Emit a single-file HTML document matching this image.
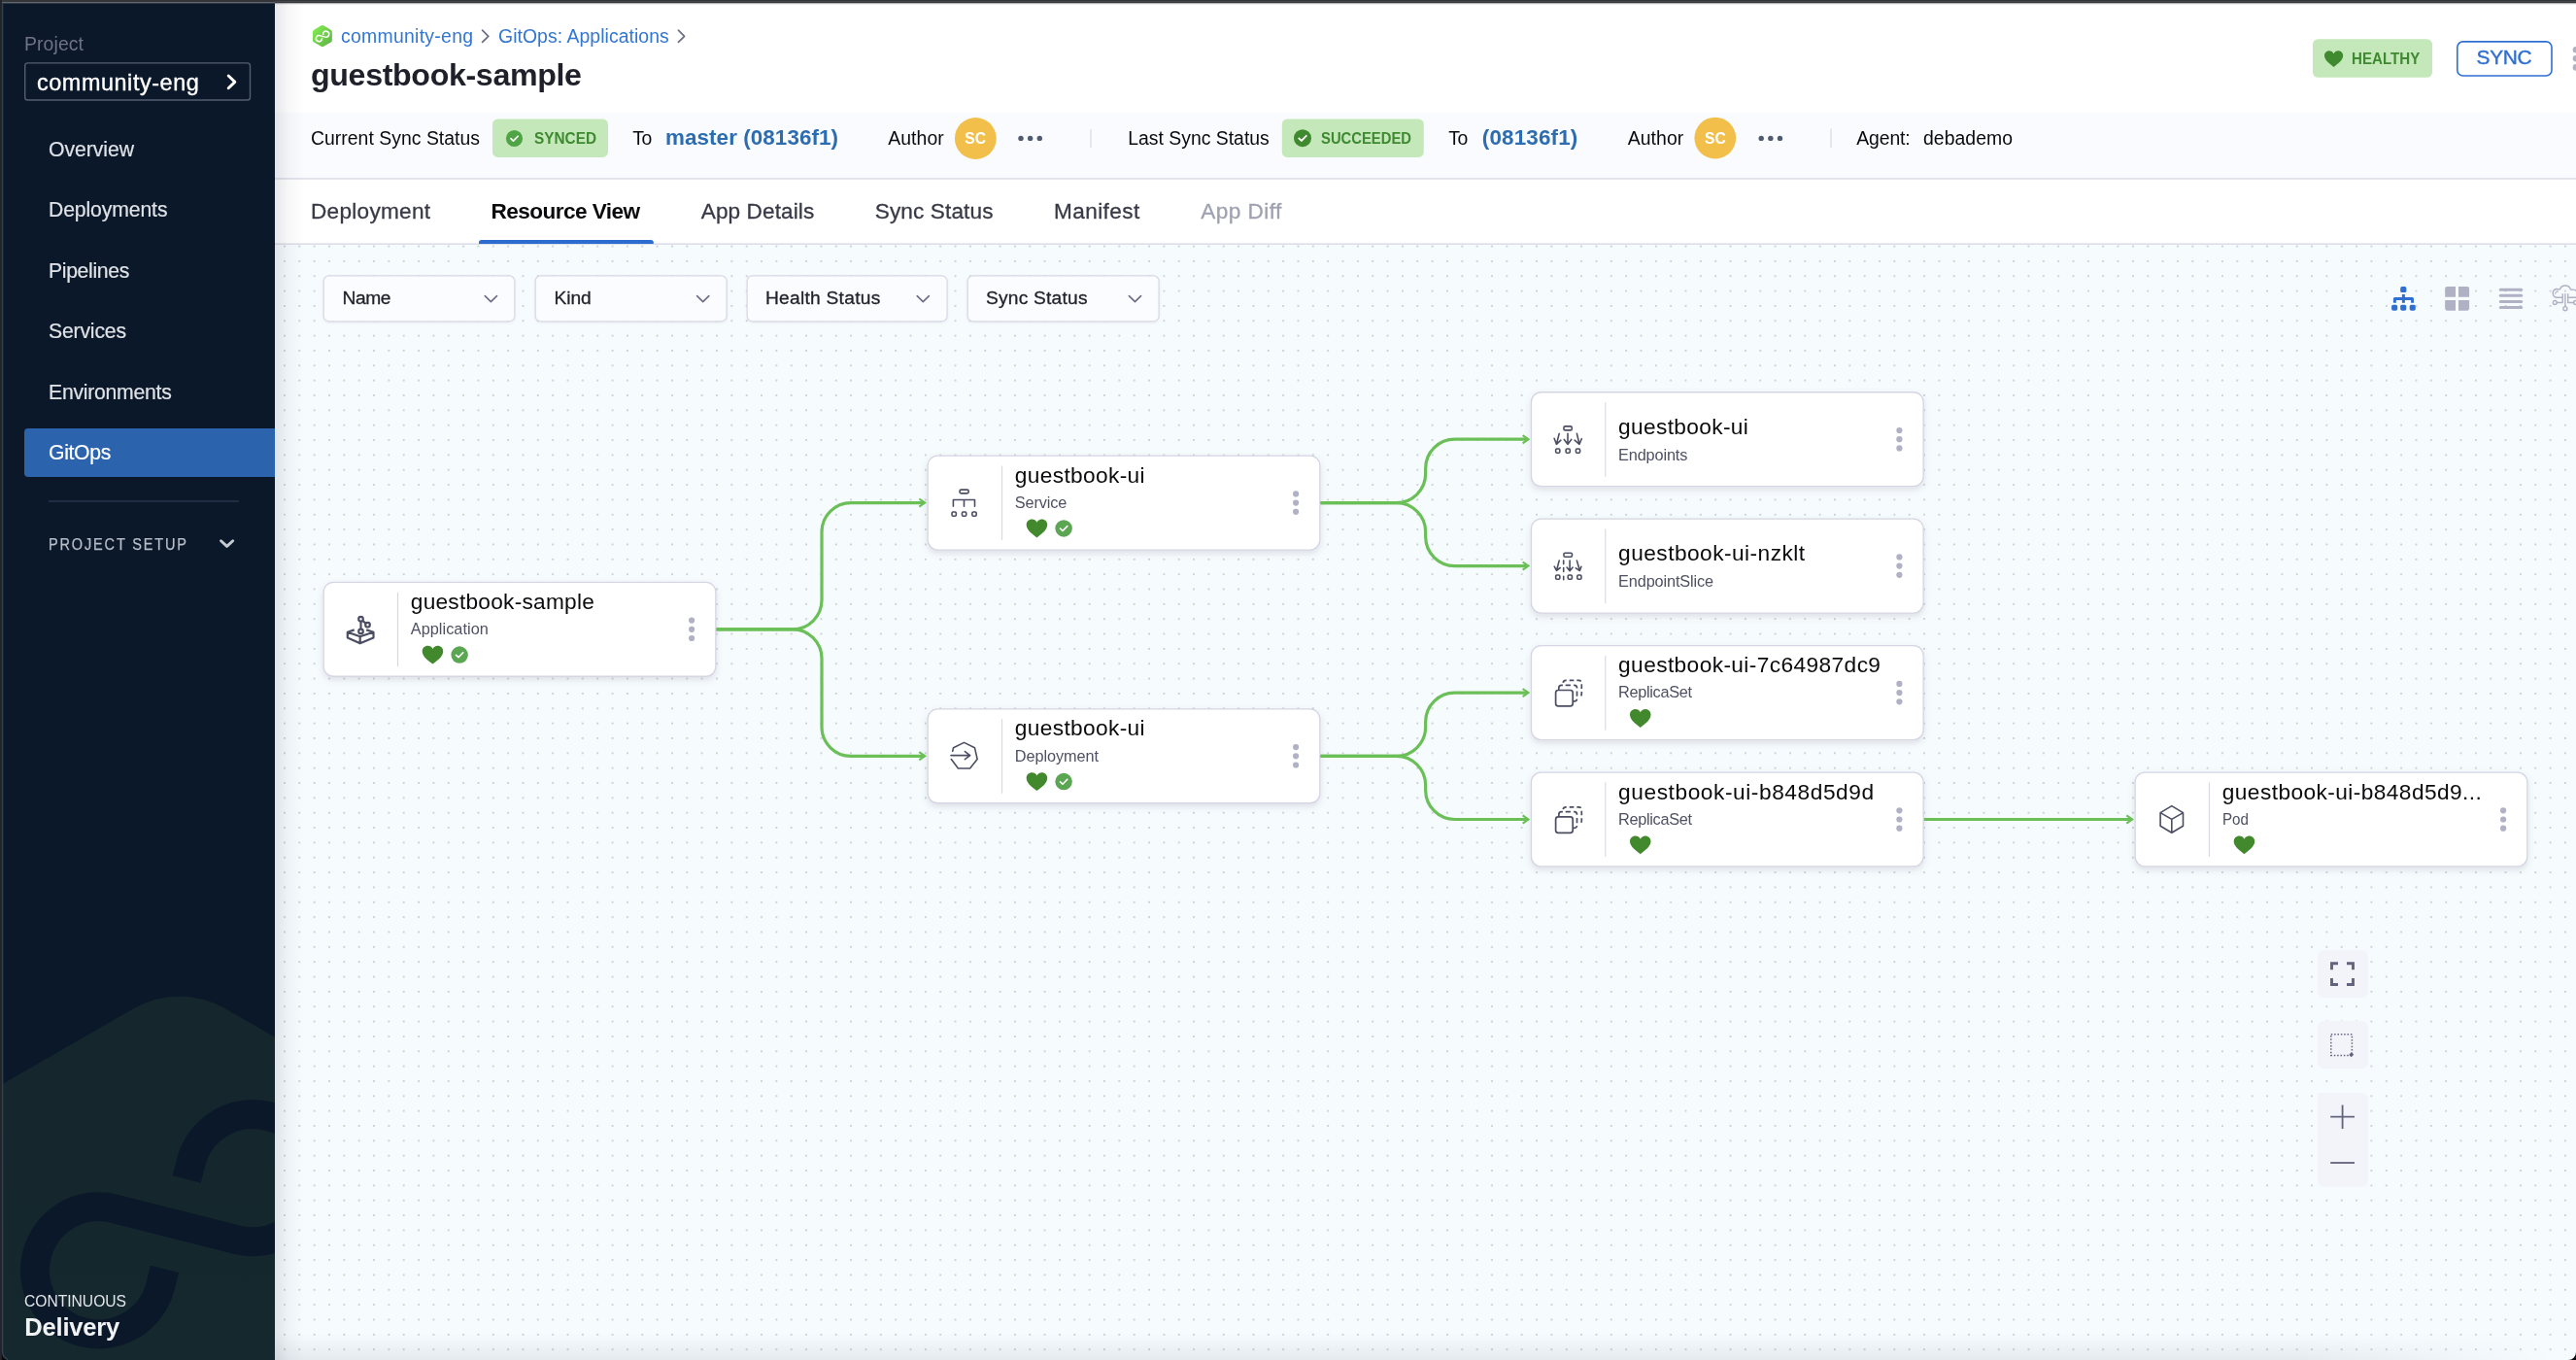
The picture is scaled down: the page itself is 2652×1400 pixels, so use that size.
<!DOCTYPE html>
<html><head><meta charset="utf-8"><title>guestbook-sample</title><style>
*{box-sizing:border-box;margin:0;padding:0}
html,body{width:2652px;height:1400px;overflow:hidden;background:#fff}
body{font-family:"Liberation Sans",sans-serif;position:relative}
.t{position:absolute;line-height:1;white-space:nowrap}
.abs{position:absolute}
#canvas{position:absolute;left:0;top:0;width:2652px;height:1400px;background-color:#f6fbfe}
.node{position:absolute;width:405px;height:98.2px;background:#fff;border:1.3px solid #d6d6e4;border-radius:10.5px;
 box-shadow:0 3px 6px rgba(96,97,112,0.16),0 0 2px rgba(40,41,61,0.06)}
#sidebar{position:absolute;left:0;top:0;width:283px;height:1400px;background:#0b1829;overflow:hidden}
.dd{position:absolute;top:283.2px;height:48.2px;background:#fbfcff;border:1.3px solid #d9dae5;border-radius:6px;box-shadow:0 1px 2px rgba(96,97,112,0.10)}
.badge{position:absolute;background:#c5e8bb;border-radius:5.5px}
.zb{position:absolute;left:2385.6px;width:52px;background:#f3f3fa;border-radius:7px}
</style></head><body>
<div id="canvas"><svg width="2652" height="1400" viewBox="0 0 2652 1400" style="position:absolute;left:0;top:0"><defs><radialGradient id="dg"><stop offset="0" stop-color="#a6abb3"/><stop offset="0.3" stop-color="#a6abb3"/><stop offset="1" stop-color="#a6abb3" stop-opacity="0"/></radialGradient><pattern id="dots" x="-6.32" y="0.33" width="15.3465" height="15.3465" patternUnits="userSpaceOnUse"><circle cx="7.67325" cy="7.67325" r="1.1" fill="url(#dg)"/></pattern></defs><rect x="283" y="250" width="2369" height="1150" fill="url(#dots)"/></svg></div>
<div class="abs" style="left:283px;top:1372px;width:2369px;height:28px;background:linear-gradient(to bottom,rgba(20,30,50,0),rgba(20,30,50,0.075));-webkit-mask-image:linear-gradient(to right,#000 0,#000 88%,transparent 99%);mask-image:linear-gradient(to right,#000 0,#000 88%,transparent 99%)"></div>
<div class="zb" style="top:978px;height:48.8px"></div>
<div class="zb" style="top:1051.4px;height:49px"></div>
<div class="zb" style="top:1125px;height:96.6px;border-radius:1px 7px 7px 7px"></div>
<div class="abs" style="left:283px;top:0;width:2369px;height:184px;background:#fff"></div>
<div class="abs" style="left:283px;top:184px;width:2369px;height:67px;background:#fff"></div>
<div id="sidebar">
<svg class="abs" style="left:0;top:0" width="283" height="1400" viewBox="0 0 283 1400">
<defs><linearGradient id="hg" x1="0" y1="1020" x2="0" y2="1400" gradientUnits="userSpaceOnUse"><stop offset="0" stop-color="#15262d"/><stop offset="1" stop-color="#14282d"/></linearGradient></defs>
<path d="M-20,1129.1 L137.1,1038.4 A95 95 0 0 1 232.1,1038.4 L300,1077.6 V1420 H-20 Z" fill="url(#hg)"/>
<path d="M169.51,1306.44 L165.10,1323.89 A65.6 65.6 0 1 1 117.59,1244.20 L244.10,1276.22 A65.6 65.6 0 1 0 196.60,1196.53 L192.19,1213.98" fill="none" stroke="#0b1829" stroke-width="30" stroke-linecap="butt"/>
</svg>
<div class="abs" style="left:25px;top:441.2px;width:258px;height:49.4px;background:#2b63ad;border-radius:4px 0 0 4px"></div>
<svg class="abs" style="left:0;top:0" width="283" height="1400" viewBox="0 0 283 1400">
<rect x="25.7" y="64.9" width="231.8" height="38.1" rx="2.8" fill="none" stroke="#565d73" stroke-width="1.4"/>
<rect x="50" y="515.1" width="195.8" height="1.7" fill="#233248"/>
<path d="M235.2,78 L241.8,84.4 L235.2,90.8" fill="none" stroke="#fff" stroke-width="2.9" stroke-linecap="round" stroke-linejoin="round"/>
<path d="M227.5,556.8 L233.6,562.4 L239.7,556.8" fill="none" stroke="#c6cbd3" stroke-width="2.9" stroke-linecap="round" stroke-linejoin="round"/>
</svg>
</div>
<svg class="abs" style="left:0;top:0;pointer-events:none" width="2652" height="1400" viewBox="0 0 2652 1400">
<rect x="0" y="0" width="2652" height="1.9" fill="#333538"/>
<rect x="1.9" y="1.9" width="281.1" height="1.5" fill="#63666b"/>
<rect x="283" y="1.9" width="2369" height="1.3" fill="#36383c"/>
<rect x="283" y="3.2" width="2369" height="1.1" fill="#3c3e46" fill-opacity="0.28"/>
<rect x="0" y="0" width="1.9" height="1400" fill="#232528"/>
<path d="M1.9,1400 V1390.9 A10 10 0 0 0 7.8,1400 Z" fill="#08090b"/>
<path d="M2.6,3.4 V1390.9 A9.3 9.3 0 0 0 8.2,1399.6" fill="none" stroke="#33424f" stroke-width="1.4"/>
</svg>
<svg class="abs" style="left:0;top:0;pointer-events:none" width="2652" height="1400" viewBox="0 0 2652 1400">
<defs><linearGradient id="gh" x1="0" y1="0" x2="1" y2="1"><stop offset="0" stop-color="#80ea4e"/><stop offset="1" stop-color="#62b748"/></linearGradient></defs>
<filter id="sh" x="-5%" y="-15%" width="110%" height="140%"><feDropShadow dx="0" dy="3" stdDeviation="3" flood-color="#606170" flood-opacity="0.17"/></filter>
<filter id="sh2" x="-5%" y="-15%" width="110%" height="140%"><feDropShadow dx="0" dy="1" stdDeviation="1.2" flood-color="#606170" flood-opacity="0.10"/></filter>
<rect x="283" y="115.7" width="2369" height="68" fill="#fafbfe"/>
<rect x="283" y="183.2" width="2369" height="1.5" fill="#d9dae6"/>
<rect x="507" y="122.4" width="119" height="39.6" rx="5.6" fill="#c5e8bb"/>
<rect x="1319.8" y="122.4" width="146" height="39.6" rx="5.6" fill="#c5e8bb"/>
<rect x="2381" y="40.2" width="123" height="39.6" rx="5.6" fill="#c5e8bb"/>
<circle cx="1004.3" cy="142.5" r="21.4" fill="#f2c04a"/>
<circle cx="1765.8" cy="142.1" r="21.4" fill="#f2c04a"/>
<rect x="283" y="250.45" width="2369" height="1.45" fill="#dadbe7"/>
<path d="M493,251 V249.6 A2.6 2.6 0 0 1 495.6,247 H670.2 A2.6 2.6 0 0 1 672.8,249.6 V251 Z" fill="#2b6dcf"/>
<rect x="2529.8" y="42.9" width="97.2" height="35.1" rx="5.8" fill="#fff" stroke="#2f6fd1" stroke-width="1.6"/>
<rect x="333.15" y="283.9" width="196.70" height="46.9" rx="5.6" fill="#fbfcff" stroke="#d9dae5" stroke-width="1.3" filter="url(#sh2)"/>
<rect x="551.15" y="283.9" width="196.95" height="46.9" rx="5.6" fill="#fbfcff" stroke="#d9dae5" stroke-width="1.3" filter="url(#sh2)"/>
<rect x="769.15" y="283.9" width="205.95" height="46.9" rx="5.6" fill="#fbfcff" stroke="#d9dae5" stroke-width="1.3" filter="url(#sh2)"/>
<rect x="996.15" y="283.9" width="196.95" height="46.9" rx="5.6" fill="#fbfcff" stroke="#d9dae5" stroke-width="1.3" filter="url(#sh2)"/>
<rect x="333.15" y="599.35" width="403.70" height="96.90" rx="10.2" fill="#fff" stroke="#d5d5e3" stroke-width="1.3" filter="url(#sh)"/>
<rect x="955.15" y="469.15" width="403.70" height="96.90" rx="10.2" fill="#fff" stroke="#d5d5e3" stroke-width="1.3" filter="url(#sh)"/>
<rect x="955.15" y="729.85" width="403.70" height="96.90" rx="10.2" fill="#fff" stroke="#d5d5e3" stroke-width="1.3" filter="url(#sh)"/>
<rect x="1576.45" y="403.75" width="403.70" height="96.90" rx="10.2" fill="#fff" stroke="#d5d5e3" stroke-width="1.3" filter="url(#sh)"/>
<rect x="1576.45" y="534.15" width="403.70" height="96.90" rx="10.2" fill="#fff" stroke="#d5d5e3" stroke-width="1.3" filter="url(#sh)"/>
<rect x="1576.45" y="664.65" width="403.70" height="96.90" rx="10.2" fill="#fff" stroke="#d5d5e3" stroke-width="1.3" filter="url(#sh)"/>
<rect x="1576.45" y="795.05" width="403.70" height="96.90" rx="10.2" fill="#fff" stroke="#d5d5e3" stroke-width="1.3" filter="url(#sh)"/>
<rect x="2198.15" y="795.05" width="403.70" height="96.90" rx="10.2" fill="#fff" stroke="#d5d5e3" stroke-width="1.3" filter="url(#sh)"/>
<path d="M737.50,647.80 H816.00 A30 30 0 0 0 846.00,617.80 V547.60 A30 30 0 0 1 876.00,517.60 H951.30" fill="none" stroke="#6abf56" stroke-width="3.2"/><path d="M946.30,513.50 L952.20,517.60 L946.30,521.70" fill="none" stroke="#6abf56" stroke-width="2.1" stroke-linejoin="miter" stroke-linecap="butt"/><path d="M737.50,647.80 H816.00 A30 30 0 0 1 846.00,677.80 V748.30 A30 30 0 0 0 876.00,778.30 H951.30" fill="none" stroke="#6abf56" stroke-width="3.2"/><path d="M946.30,774.20 L952.20,778.30 L946.30,782.40" fill="none" stroke="#6abf56" stroke-width="2.1" stroke-linejoin="miter" stroke-linecap="butt"/><path d="M1359.50,517.60 H1437.65 A30 30 0 0 0 1467.65,487.60 V482.20 A30 30 0 0 1 1497.65,452.20 H1572.60" fill="none" stroke="#6abf56" stroke-width="3.2"/><path d="M1567.60,448.10 L1573.50,452.20 L1567.60,456.30" fill="none" stroke="#6abf56" stroke-width="2.1" stroke-linejoin="miter" stroke-linecap="butt"/><path d="M1359.50,517.60 H1437.65 A30 30 0 0 1 1467.65,547.60 V552.60 A30 30 0 0 0 1497.65,582.60 H1572.60" fill="none" stroke="#6abf56" stroke-width="3.2"/><path d="M1567.60,578.50 L1573.50,582.60 L1567.60,586.70" fill="none" stroke="#6abf56" stroke-width="2.1" stroke-linejoin="miter" stroke-linecap="butt"/><path d="M1359.50,778.30 H1437.65 A30 30 0 0 0 1467.65,748.30 V743.10 A30 30 0 0 1 1497.65,713.10 H1572.60" fill="none" stroke="#6abf56" stroke-width="3.2"/><path d="M1567.60,709.00 L1573.50,713.10 L1567.60,717.20" fill="none" stroke="#6abf56" stroke-width="2.1" stroke-linejoin="miter" stroke-linecap="butt"/><path d="M1359.50,778.30 H1437.65 A30 30 0 0 1 1467.65,808.30 V813.50 A30 30 0 0 0 1497.65,843.50 H1572.60" fill="none" stroke="#6abf56" stroke-width="3.2"/><path d="M1567.60,839.40 L1573.50,843.50 L1567.60,847.60" fill="none" stroke="#6abf56" stroke-width="2.1" stroke-linejoin="miter" stroke-linecap="butt"/><path d="M1980.80,843.50 H2194.30" fill="none" stroke="#6abf56" stroke-width="3.2"/><path d="M2189.30,839.40 L2195.20,843.50 L2189.30,847.60" fill="none" stroke="#6abf56" stroke-width="2.1" stroke-linejoin="miter" stroke-linecap="butt"/>
<rect x="408.90" y="609.70" width="1.2" height="76.6" fill="#d9dae5"/>
<circle cx="712.10" cy="638.60" r="3.1" fill="#b0b1c4"/>
<circle cx="712.10" cy="647.80" r="3.1" fill="#b0b1c4"/>
<circle cx="712.10" cy="657.00" r="3.1" fill="#b0b1c4"/>
<g fill="none" stroke="#4b4e63" stroke-width="2.2" stroke-linejoin="round" stroke-linecap="butt"><circle cx="371.50" cy="637.20" r="2.3"/><circle cx="378.50" cy="643.20" r="2.3"/><circle cx="371.50" cy="649.90" r="2.3"/><path d="M371.50,639.50 L371.50,647.60 M373.20,638.80 L376.70,641.80"/><path d="M364.70,648.40 L357.80,650.80 L357.80,656.50 L370.70,662.30 L384.50,656.50 L384.50,650.80 L377.20,648.40 M357.80,650.80 L370.70,655.30 L384.50,650.80 M370.70,655.30 L370.70,662.30"/></g>
<path transform="translate(434.70,663.44) scale(1.3438)" d="M16 5.095c0-2.255-1.88-4.083-4.2-4.083-1.682 0-3.13.964-3.8 2.352a4.206 4.206 0 00-3.8-2.352C1.88 1.012 0 2.84 0 5.095c0 .066.007.13.01.194H.004c.001.047.01.096.014.143l.013.142c.07.8.321 1.663.824 2.573C2.073 10.354 4.232 12.018 8 15c3.767-2.982 5.926-4.647 7.144-6.854.501-.905.752-1.766.823-2.562.007-.055.012-.11.016-.164.003-.043.012-.088.013-.13h-.006c.003-.066.01-.13.01-.195z" fill="#42892d"/>
<circle cx="473.10" cy="674.10" r="8.75" fill="#5ba653"/><path d="M469.50,674.30 L472.00,676.70 L476.80,671.80" fill="none" stroke="#fff" stroke-width="1.60" stroke-linecap="round" stroke-linejoin="round"/>
<rect x="1030.90" y="479.50" width="1.2" height="76.6" fill="#d9dae5"/>
<circle cx="1334.10" cy="508.40" r="3.1" fill="#b0b1c4"/>
<circle cx="1334.10" cy="517.60" r="3.1" fill="#b0b1c4"/>
<circle cx="1334.10" cy="526.80" r="3.1" fill="#b0b1c4"/>
<g transform="translate(992.50,517.60)" fill="none" stroke="#4b4e63" stroke-width="1.6" stroke-linejoin="round"><rect x="-4.5" y="-13.5" width="9.2" height="3.8" rx="1.6"/><path d="M-11.1,3.6 V-3.1 H11 V3.6 M0,-3.1 V3.6" stroke-linecap="round"/><rect x="-12.45" y="9.35" width="4.3" height="4.3" rx="1.2"/><rect x="-2.05" y="9.35" width="4.3" height="4.3" rx="1.2"/><rect x="8.35" y="9.35" width="4.3" height="4.3" rx="1.2"/></g>
<path transform="translate(1056.70,533.24) scale(1.3438)" d="M16 5.095c0-2.255-1.88-4.083-4.2-4.083-1.682 0-3.13.964-3.8 2.352a4.206 4.206 0 00-3.8-2.352C1.88 1.012 0 2.84 0 5.095c0 .066.007.13.01.194H.004c.001.047.01.096.014.143l.013.142c.07.8.321 1.663.824 2.573C2.073 10.354 4.232 12.018 8 15c3.767-2.982 5.926-4.647 7.144-6.854.501-.905.752-1.766.823-2.562.007-.055.012-.11.016-.164.003-.043.012-.088.013-.13h-.006c.003-.066.01-.13.01-.195z" fill="#42892d"/>
<circle cx="1095.10" cy="543.90" r="8.75" fill="#5ba653"/><path d="M1091.50,544.10 L1094.00,546.50 L1098.80,541.60" fill="none" stroke="#fff" stroke-width="1.60" stroke-linecap="round" stroke-linejoin="round"/>
<rect x="1030.90" y="740.20" width="1.2" height="76.6" fill="#d9dae5"/>
<circle cx="1334.10" cy="769.10" r="3.1" fill="#b0b1c4"/>
<circle cx="1334.10" cy="778.30" r="3.1" fill="#b0b1c4"/>
<circle cx="1334.10" cy="787.50" r="3.1" fill="#b0b1c4"/>
<g transform="translate(992.50,778.40)" fill="none" stroke="#4b4e63" stroke-width="1.6" stroke-linejoin="round" stroke-linecap="round"><path d="M-13.20,3.12 L-6.07,12.61 L6.07,12.61 L13.65,3.12 L10.95,-8.73 L0.00,-14.00 L-10.95,-8.73 L-11.78,-5.06"/><path d="M-13.5,-0.75 H6 M0.9,-4.8 L6.2,-0.75 L0.9,3.3"/></g>
<path transform="translate(1056.70,793.94) scale(1.3438)" d="M16 5.095c0-2.255-1.88-4.083-4.2-4.083-1.682 0-3.13.964-3.8 2.352a4.206 4.206 0 00-3.8-2.352C1.88 1.012 0 2.84 0 5.095c0 .066.007.13.01.194H.004c.001.047.01.096.014.143l.013.142c.07.8.321 1.663.824 2.573C2.073 10.354 4.232 12.018 8 15c3.767-2.982 5.926-4.647 7.144-6.854.501-.905.752-1.766.823-2.562.007-.055.012-.11.016-.164.003-.043.012-.088.013-.13h-.006c.003-.066.01-.13.01-.195z" fill="#42892d"/>
<circle cx="1095.10" cy="804.60" r="8.75" fill="#5ba653"/><path d="M1091.50,804.80 L1094.00,807.20 L1098.80,802.30" fill="none" stroke="#fff" stroke-width="1.60" stroke-linecap="round" stroke-linejoin="round"/>
<rect x="1652.20" y="414.10" width="1.2" height="76.6" fill="#d9dae5"/>
<circle cx="1955.40" cy="443.00" r="3.1" fill="#b0b1c4"/>
<circle cx="1955.40" cy="452.20" r="3.1" fill="#b0b1c4"/>
<circle cx="1955.40" cy="461.40" r="3.1" fill="#b0b1c4"/>
<g transform="translate(1614.20,452.50)" fill="none" stroke="#4b4e63" stroke-width="1.6" stroke-linejoin="round" stroke-linecap="round"><rect x="-4.3" y="-13.6" width="8.4" height="4.0" rx="1.5"/><path d="M-0.2,-6.1 V4.8 M-3.9,-0.1 L-0.2,4.8 L3.5,-0.1"/><path d="M-9,-6.1 L-11.8,4.8 M-14.1,-1.2 L-11.8,4.8 L-7.3,0.7"/><path d="M9.2,-6.1 L11.8,4.8 M6.9,0.7 L11.8,4.8 L14.1,-0.8"/><rect x="-12.55" y="9.5" width="4.2" height="4.2" rx="1.2"/><rect x="-2.10" y="9.5" width="4.2" height="4.2" rx="1.2"/><rect x="8.20" y="9.5" width="4.2" height="4.2" rx="1.2"/></g>
<rect x="1652.20" y="544.50" width="1.2" height="76.6" fill="#d9dae5"/>
<circle cx="1955.40" cy="573.40" r="3.1" fill="#b0b1c4"/>
<circle cx="1955.40" cy="582.60" r="3.1" fill="#b0b1c4"/>
<circle cx="1955.40" cy="591.80" r="3.1" fill="#b0b1c4"/>
<g transform="translate(1614.60,582.70)" fill="none" stroke="#4b4e63" stroke-width="1.6" stroke-linejoin="round" stroke-linecap="round"><rect x="-4.7" y="-13.5" width="8.6" height="4.1" rx="1.5"/><path d="M1.5,-5.6 V5 M-1.5,1.3 L1.5,5 L4.5,1.3"/><path d="M-9.4,-5.6 L-12.1,4.6 M-14.4,0.5 L-12.1,4.6 L-8.4,1.8"/><path d="M8.8,-5.6 L11.8,4.8 M7.7,2.1 L11.8,4.8 L13.3,0.5"/><path d="M-4.9,-5.6 V-2.1 M-4.9,1.8 V5.8 M-4.9,10.6 V14.1"/><rect x="-12.95" y="9.3" width="4.2" height="4.2" rx="1.2"/><rect x="-0.40" y="9.3" width="4.2" height="4.2" rx="1.2"/><rect x="9.20" y="9.3" width="4.2" height="4.2" rx="1.2"/></g>
<rect x="1652.20" y="675.00" width="1.2" height="76.6" fill="#d9dae5"/>
<circle cx="1955.40" cy="703.90" r="3.1" fill="#b0b1c4"/>
<circle cx="1955.40" cy="713.10" r="3.1" fill="#b0b1c4"/>
<circle cx="1955.40" cy="722.30" r="3.1" fill="#b0b1c4"/>
<g transform="translate(1614.50,714.00)" fill="none" stroke="#4b4e63" stroke-width="1.7" stroke-linejoin="round"><path d="M-5.3,-10.6 V-10.8 A2.8 2.8 0 0 1 -2.5,-13.6 H11 A2.8 2.8 0 0 1 13.8,-10.8 V0.5 A2.8 2.8 0 0 1 11,3.3" stroke-dasharray="4.6 3" stroke-dashoffset="-0.6"/><path d="M-9.7,-3.6 V-5.9 A2.8 2.8 0 0 1 -6.9,-8.7 H-5.6"/><path d="M-2.8,-8.7 H6.2 A2.8 2.8 0 0 1 9,-5.9 V3.5" stroke-dasharray="5.2 3.2"/><path d="M9,5.6 A2.6 2.6 0 0 1 6.4,7.9 H5.2"/><rect x="-12.9" y="-3.5" width="17.6" height="16.4" rx="2.6"/></g>
<path transform="translate(1678.00,728.74) scale(1.3438)" d="M16 5.095c0-2.255-1.88-4.083-4.2-4.083-1.682 0-3.13.964-3.8 2.352a4.206 4.206 0 00-3.8-2.352C1.88 1.012 0 2.84 0 5.095c0 .066.007.13.01.194H.004c.001.047.01.096.014.143l.013.142c.07.8.321 1.663.824 2.573C2.073 10.354 4.232 12.018 8 15c3.767-2.982 5.926-4.647 7.144-6.854.501-.905.752-1.766.823-2.562.007-.055.012-.11.016-.164.003-.043.012-.088.013-.13h-.006c.003-.066.01-.13.01-.195z" fill="#42892d"/>
<rect x="1652.20" y="805.40" width="1.2" height="76.6" fill="#d9dae5"/>
<circle cx="1955.40" cy="834.30" r="3.1" fill="#b0b1c4"/>
<circle cx="1955.40" cy="843.50" r="3.1" fill="#b0b1c4"/>
<circle cx="1955.40" cy="852.70" r="3.1" fill="#b0b1c4"/>
<g transform="translate(1614.50,844.40)" fill="none" stroke="#4b4e63" stroke-width="1.7" stroke-linejoin="round"><path d="M-5.3,-10.6 V-10.8 A2.8 2.8 0 0 1 -2.5,-13.6 H11 A2.8 2.8 0 0 1 13.8,-10.8 V0.5 A2.8 2.8 0 0 1 11,3.3" stroke-dasharray="4.6 3" stroke-dashoffset="-0.6"/><path d="M-9.7,-3.6 V-5.9 A2.8 2.8 0 0 1 -6.9,-8.7 H-5.6"/><path d="M-2.8,-8.7 H6.2 A2.8 2.8 0 0 1 9,-5.9 V3.5" stroke-dasharray="5.2 3.2"/><path d="M9,5.6 A2.6 2.6 0 0 1 6.4,7.9 H5.2"/><rect x="-12.9" y="-3.5" width="17.6" height="16.4" rx="2.6"/></g>
<path transform="translate(1678.00,859.14) scale(1.3438)" d="M16 5.095c0-2.255-1.88-4.083-4.2-4.083-1.682 0-3.13.964-3.8 2.352a4.206 4.206 0 00-3.8-2.352C1.88 1.012 0 2.84 0 5.095c0 .066.007.13.01.194H.004c.001.047.01.096.014.143l.013.142c.07.8.321 1.663.824 2.573C2.073 10.354 4.232 12.018 8 15c3.767-2.982 5.926-4.647 7.144-6.854.501-.905.752-1.766.823-2.562.007-.055.012-.11.016-.164.003-.043.012-.088.013-.13h-.006c.003-.066.01-.13.01-.195z" fill="#42892d"/>
<rect x="2273.90" y="805.40" width="1.2" height="76.6" fill="#d9dae5"/>
<circle cx="2577.10" cy="834.30" r="3.1" fill="#b0b1c4"/>
<circle cx="2577.10" cy="843.50" r="3.1" fill="#b0b1c4"/>
<circle cx="2577.10" cy="852.70" r="3.1" fill="#b0b1c4"/>
<g transform="translate(2235.80,843.40)" fill="none" stroke="#4b4e63" stroke-width="1.6" stroke-linejoin="round"><path d="M0,-13.8 L11.7,-6.75 V6.8 L0,13.9 L-11.7,6.8 V-6.75 Z M-11.7,-6.75 L0,0 L11.7,-6.75 M0,0 V13.9"/></g>
<path transform="translate(2299.70,859.14) scale(1.3438)" d="M16 5.095c0-2.255-1.88-4.083-4.2-4.083-1.682 0-3.13.964-3.8 2.352a4.206 4.206 0 00-3.8-2.352C1.88 1.012 0 2.84 0 5.095c0 .066.007.13.01.194H.004c.001.047.01.096.014.143l.013.142c.07.8.321 1.663.824 2.573C2.073 10.354 4.232 12.018 8 15c3.767-2.982 5.926-4.647 7.144-6.854.501-.905.752-1.766.823-2.562.007-.055.012-.11.016-.164.003-.043.012-.088.013-.13h-.006c.003-.066.01-.13.01-.195z" fill="#42892d"/>
<path d="M331.90,28.50 L339.35,32.80 L339.35,41.40 L331.90,45.70 L324.45,41.40 L324.45,32.80 Z" fill="url(#gh)" stroke="url(#gh)" stroke-width="5" stroke-linejoin="round"/>
<path d="M331.57,39.52 L331.36,40.35 A3.05 3.05 0 1 1 329.15,36.64 L334.93,38.11 A3.05 3.05 0 1 0 332.72,34.40 L332.51,35.22" fill="none" stroke="#fff" stroke-width="1.5" stroke-linecap="round"/>
<path d="M496.60,31.2 L502.80,37.3 L496.60,43.4" fill="none" stroke="#6b6d85" stroke-width="1.7" stroke-linecap="round" stroke-linejoin="round"/>
<path d="M698.40,31.2 L704.60,37.3 L698.40,43.4" fill="none" stroke="#6b6d85" stroke-width="1.7" stroke-linecap="round" stroke-linejoin="round"/>
<circle cx="529.50" cy="142.50" r="8.60" fill="#4fa546"/><path d="M525.96,142.70 L528.42,145.06 L533.14,140.24" fill="none" stroke="#fff" stroke-width="1.70" stroke-linecap="round" stroke-linejoin="round"/>
<circle cx="1341.00" cy="142.20" r="9.00" fill="#3f8a2e"/><path d="M1337.30,142.41 L1339.87,144.87 L1344.81,139.83" fill="none" stroke="#fff" stroke-width="1.90" stroke-linecap="round" stroke-linejoin="round"/>
<path transform="translate(2393.00,51.09) scale(1.2000)" d="M16 5.095c0-2.255-1.88-4.083-4.2-4.083-1.682 0-3.13.964-3.8 2.352a4.206 4.206 0 00-3.8-2.352C1.88 1.012 0 2.84 0 5.095c0 .066.007.13.01.194H.004c.001.047.01.096.014.143l.013.142c.07.8.321 1.663.824 2.573C2.073 10.354 4.232 12.018 8 15c3.767-2.982 5.926-4.647 7.144-6.854.501-.905.752-1.766.823-2.562.007-.055.012-.11.016-.164.003-.043.012-.088.013-.13h-.006c.003-.066.01-.13.01-.195z" fill="#3f8a2e"/>
<circle cx="1051.00" cy="142.4" r="2.7" fill="#4f5b6e"/>
<circle cx="1060.65" cy="142.4" r="2.7" fill="#4f5b6e"/>
<circle cx="1070.30" cy="142.4" r="2.7" fill="#4f5b6e"/>
<circle cx="1813.20" cy="142.4" r="2.7" fill="#4f5b6e"/>
<circle cx="1822.85" cy="142.4" r="2.7" fill="#4f5b6e"/>
<circle cx="1832.50" cy="142.4" r="2.7" fill="#4f5b6e"/>
<rect x="1122.4" y="133" width="1.3" height="19" fill="#d9dae5"/>
<rect x="1884.4" y="132.5" width="1.3" height="19.3" fill="#d9dae5"/>
<circle cx="2652" cy="51.20" r="3.3" fill="#b0b1c4"/>
<circle cx="2652" cy="60.30" r="3.3" fill="#b0b1c4"/>
<circle cx="2652" cy="69.40" r="3.3" fill="#b0b1c4"/>
<path d="M499.30,304.6 L505.40,310.6 L511.50,304.6" fill="none" stroke="#6b6d85" stroke-width="1.6" stroke-linecap="round" stroke-linejoin="round"/>
<path d="M717.60,304.6 L723.70,310.6 L729.80,304.6" fill="none" stroke="#6b6d85" stroke-width="1.6" stroke-linecap="round" stroke-linejoin="round"/>
<path d="M944.20,304.6 L950.30,310.6 L956.40,304.6" fill="none" stroke="#6b6d85" stroke-width="1.6" stroke-linecap="round" stroke-linejoin="round"/>
<path d="M1162.40,304.6 L1168.50,310.6 L1174.60,304.6" fill="none" stroke="#6b6d85" stroke-width="1.6" stroke-linecap="round" stroke-linejoin="round"/>
<g fill="#2f6fd1">
<rect x="2471.2" y="295" width="6.2" height="6.1" rx="1.7"/>
<rect x="2472.9" y="303" width="3" height="8.8"/>
<path d="M2463.9,311.8 V307.6 A1.6 1.6 0 0 1 2465.5,306 H2483.4 A1.6 1.6 0 0 1 2485,307.6 V311.8 H2482.1 V308.9 H2466.9 V311.8 Z"/>
<rect x="2462.1" y="313.7" width="6.1" height="6.1" rx="1.7"/>
<rect x="2471.2" y="313.7" width="6.1" height="6.1" rx="1.7"/>
<rect x="2480.7" y="313.7" width="6.1" height="6.1" rx="1.7"/>
</g>
<g fill="#b0b1c4">
<path d="M2519.4,295 H2528 V305.8 H2517.2 V297.2 A2.2 2.2 0 0 1 2519.4,295 Z"/>
<path d="M2531,295 H2539.9 A2.2 2.2 0 0 1 2542.1,297.2 V305.8 H2531 Z"/>
<path d="M2517.2,309 H2528 V319.8 H2519.4 A2.2 2.2 0 0 1 2517.2,317.6 Z"/>
<path d="M2531,309 H2542.1 V317.6 A2.2 2.2 0 0 1 2539.9,319.8 H2531 Z"/>
</g>
<rect x="2572.8" y="296.80" width="24.4" height="3" rx="1.5" fill="#b0b1c4"/>
<rect x="2572.8" y="302.85" width="24.4" height="3" rx="1.5" fill="#b0b1c4"/>
<rect x="2572.8" y="308.90" width="24.4" height="3" rx="1.5" fill="#b0b1c4"/>
<rect x="2572.8" y="315.00" width="24.4" height="3" rx="1.5" fill="#b0b1c4"/>
<g fill="none" stroke="#b0b1c4" stroke-width="1.4" stroke-linecap="round" stroke-linejoin="round">
<path d="M2637.6,306.3 H2632.6 A4.5 4.5 0 0 1 2631.4,297.5 L2635.4,297.9 A5.9 5.9 0 0 1 2646.5,297.9 L2647.6,298.3 A5 5 0 0 1 2652.6,299.8 M2644.6,306.3 H2652.6"/>
<path d="M2630.8,302.6 A2.6 2.6 0 0 1 2633.4,299.9" stroke-width="1.1"/>
<path d="M2640.9,302.8 V315.6 M2638.2,302.8 V311.5 H2632.3 M2643.7,302.8 V311.5 H2649.6"/>
<circle cx="2640.9" cy="317.7" r="2.05"/><circle cx="2630.3" cy="311.5" r="1.95"/><circle cx="2651.6" cy="311.5" r="1.95"/>
</g>
<g fill="none" stroke="#62647d" stroke-width="2.9" stroke-linejoin="miter">
<path d="M2400.5,998.3 V991.8 H2407 M2416,991.8 H2422.5 V998.3 M2422.5,1007 V1013.5 H2416 M2407,1013.5 H2400.5 V1007"/>
</g>
<rect x="2399.8" y="1064.8" width="21.6" height="21.6" fill="none" stroke="#62647d" stroke-width="1.5" stroke-dasharray="1.5 1.85"/>
<path d="M2420.6,1083.2 L2423.2,1085.8 L2420.6,1088.2 L2418.4,1085.8 Z" fill="#62647d"/>
<path d="M2399.2,1149.6 H2424 M2411.6,1137.4 V1162" fill="none" stroke="#62647d" stroke-width="1.8"/>
<path d="M2399.2,1197 H2424" fill="none" stroke="#62647d" stroke-width="1.8"/>
</svg>
<div class="abs" style="left:283px;top:3px;width:30px;height:1397px;background:linear-gradient(to right,rgba(20,25,50,0.10),rgba(20,25,50,0.035) 45%,rgba(20,25,50,0))"></div>
<div id="txt" style="position:absolute;left:0;top:0;width:2652px;height:1400px;will-change:transform">
<span class="t" style="left:25.00px;top:35.70px;font-size:19.40px;font-weight:400;color:#6f7289;letter-spacing:0.107px;">Project</span>
<span class="t" style="left:38.00px;top:73.70px;font-size:23.40px;font-weight:400;color:#ffffff;letter-spacing:0.570px;-webkit-text-stroke:0.35px #fff;">community-eng</span>
<span class="t" style="left:50.00px;top:143.30px;font-size:21.20px;font-weight:400;color:#dfe2e7;letter-spacing:-0.045px;-webkit-text-stroke:0.2px #dfe2e7;">Overview</span>
<span class="t" style="left:50.00px;top:205.30px;font-size:21.20px;font-weight:400;color:#dfe2e7;letter-spacing:-0.116px;-webkit-text-stroke:0.2px #dfe2e7;">Deployments</span>
<span class="t" style="left:50.00px;top:268.30px;font-size:21.20px;font-weight:400;color:#dfe2e7;letter-spacing:-0.342px;-webkit-text-stroke:0.2px #dfe2e7;">Pipelines</span>
<span class="t" style="left:50.00px;top:330.30px;font-size:21.20px;font-weight:400;color:#dfe2e7;letter-spacing:-0.179px;-webkit-text-stroke:0.2px #dfe2e7;">Services</span>
<span class="t" style="left:50.00px;top:393.30px;font-size:21.20px;font-weight:400;color:#dfe2e7;letter-spacing:-0.254px;-webkit-text-stroke:0.2px #dfe2e7;">Environments</span>
<span class="t" style="left:50.00px;top:455.30px;font-size:21.20px;font-weight:400;color:#ffffff;letter-spacing:-0.338px;-webkit-text-stroke:0.2px #fff;">GitOps</span>
<span class="t" style="left:50.00px;top:552.35px;font-size:17.10px;font-weight:400;color:#b9bfca;letter-spacing:2.153px;-webkit-text-stroke:0.25px #b9bfca;transform:scaleX(0.8500);transform-origin:0 0;">PROJECT SETUP</span>
<span class="t" style="left:25.30px;top:1331.40px;font-size:17.00px;font-weight:400;color:#e3e6ea;letter-spacing:0.000px;transform:scaleX(0.9188);transform-origin:0 0;">CONTINUOUS</span>
<span class="t" style="left:25.30px;top:1353.60px;font-size:25.60px;font-weight:700;color:#f1f2f4;letter-spacing:-0.230px;">Delivery</span>
<span class="t" style="left:351.00px;top:27.70px;font-size:19.40px;font-weight:400;color:#3377d2;letter-spacing:0.286px;">community-eng</span>
<span class="t" style="left:513.00px;top:27.70px;font-size:19.40px;font-weight:400;color:#3377d2;letter-spacing:0.060px;">GitOps: Applications</span>
<span class="t" style="left:320.00px;top:61.30px;font-size:32.20px;font-weight:700;color:#1f2029;letter-spacing:-0.359px;">guestbook-sample</span>
<span class="t" style="left:320.00px;top:132.70px;font-size:19.40px;font-weight:400;color:#0b0b0d;letter-spacing:0.027px;">Current Sync Status</span>
<span class="t" style="left:550.00px;top:133.70px;font-size:17.40px;font-weight:700;color:#3e8a30;letter-spacing:0.000px;transform:scaleX(0.8829);transform-origin:0 0;">SYNCED</span>
<span class="t" style="left:651.25px;top:132.70px;font-size:19.40px;font-weight:400;color:#0b0b0d;letter-spacing:-0.484px;">To</span>
<span class="t" style="left:685.00px;top:130.70px;font-size:22.40px;font-weight:700;color:#2c6cb0;letter-spacing:0.083px;">master (08136f1)</span>
<span class="t" style="left:914.25px;top:132.70px;font-size:19.40px;font-weight:400;color:#0b0b0d;letter-spacing:0.072px;">Author</span>
<span class="t" style="left:993.30px;top:135.10px;font-size:15.60px;font-weight:700;color:#ffffff;letter-spacing:0.000px;">SC</span>
<span class="t" style="left:1161.25px;top:132.70px;font-size:19.40px;font-weight:400;color:#0b0b0d;letter-spacing:-0.001px;">Last Sync Status</span>
<span class="t" style="left:1360.00px;top:133.70px;font-size:17.40px;font-weight:700;color:#3e8a30;letter-spacing:0.000px;transform:scaleX(0.8516);transform-origin:0 0;">SUCCEEDED</span>
<span class="t" style="left:1491.25px;top:132.70px;font-size:19.40px;font-weight:400;color:#0b0b0d;letter-spacing:-0.484px;">To</span>
<span class="t" style="left:1525.75px;top:130.70px;font-size:22.40px;font-weight:700;color:#2c6cb0;letter-spacing:0.176px;">(08136f1)</span>
<span class="t" style="left:1675.75px;top:132.70px;font-size:19.40px;font-weight:400;color:#0b0b0d;letter-spacing:0.072px;">Author</span>
<span class="t" style="left:1755.00px;top:135.10px;font-size:15.60px;font-weight:700;color:#ffffff;letter-spacing:0.000px;">SC</span>
<span class="t" style="left:1911.25px;top:132.70px;font-size:19.40px;font-weight:400;color:#0b0b0d;letter-spacing:-0.113px;">Agent:</span>
<span class="t" style="left:1980.00px;top:132.70px;font-size:19.40px;font-weight:400;color:#0b0b0d;letter-spacing:0.049px;">debademo</span>
<span class="t" style="left:2421.00px;top:51.70px;font-size:17.40px;font-weight:700;color:#3e8a30;letter-spacing:0.000px;transform:scaleX(0.8690);transform-origin:0 0;">HEALTHY</span>
<span class="t" style="left:2549.60px;top:49.45px;font-size:20.90px;font-weight:400;color:#2f6fd1;letter-spacing:-0.349px;-webkit-text-stroke:0.4px #2f6fd1;">SYNC</span>
<span class="t" style="left:320.00px;top:206.60px;font-size:22.60px;font-weight:400;color:#383946;letter-spacing:0.271px;-webkit-text-stroke:0.3px #383946;">Deployment</span>
<span class="t" style="left:505.40px;top:206.60px;font-size:22.60px;font-weight:700;color:#0b0b0d;letter-spacing:-0.554px;">Resource View</span>
<span class="t" style="left:721.75px;top:206.60px;font-size:22.60px;font-weight:400;color:#383946;letter-spacing:0.095px;-webkit-text-stroke:0.3px #383946;">App Details</span>
<span class="t" style="left:900.75px;top:206.60px;font-size:22.60px;font-weight:400;color:#383946;letter-spacing:0.119px;-webkit-text-stroke:0.3px #383946;">Sync Status</span>
<span class="t" style="left:1085.00px;top:206.60px;font-size:22.60px;font-weight:400;color:#383946;letter-spacing:0.408px;-webkit-text-stroke:0.3px #383946;">Manifest</span>
<span class="t" style="left:1236.25px;top:206.60px;font-size:22.60px;font-weight:400;color:#9fa1b0;letter-spacing:0.433px;-webkit-text-stroke:0.3px #9fa1b0;">App Diff</span>
<span class="t" style="left:352.50px;top:297.30px;font-size:19.20px;font-weight:400;color:#22222a;letter-spacing:-0.396px;-webkit-text-stroke:0.3px #22222a;">Name</span>
<span class="t" style="left:570.50px;top:297.30px;font-size:19.20px;font-weight:400;color:#22222a;letter-spacing:-0.052px;-webkit-text-stroke:0.3px #22222a;">Kind</span>
<span class="t" style="left:788.00px;top:297.30px;font-size:19.20px;font-weight:400;color:#22222a;letter-spacing:0.254px;-webkit-text-stroke:0.3px #22222a;">Health Status</span>
<span class="t" style="left:1015.00px;top:297.30px;font-size:19.20px;font-weight:400;color:#22222a;letter-spacing:0.211px;-webkit-text-stroke:0.3px #22222a;">Sync Status</span>
<span class="t" style="left:422.80px;top:608.05px;font-size:22.70px;font-weight:400;color:#0b0b0d;letter-spacing:0.241px;">guestbook-sample</span>
<span class="t" style="left:422.80px;top:639.25px;font-size:16.30px;font-weight:400;color:#4f5162;letter-spacing:0.034px;">Application</span>
<span class="t" style="left:1044.80px;top:478.05px;font-size:22.70px;font-weight:400;color:#0b0b0d;letter-spacing:0.348px;">guestbook-ui</span>
<span class="t" style="left:1044.80px;top:509.25px;font-size:16.30px;font-weight:400;color:#4f5162;letter-spacing:-0.133px;">Service</span>
<span class="t" style="left:1044.80px;top:738.05px;font-size:22.70px;font-weight:400;color:#0b0b0d;letter-spacing:0.348px;">guestbook-ui</span>
<span class="t" style="left:1044.80px;top:770.25px;font-size:16.30px;font-weight:400;color:#4f5162;letter-spacing:-0.066px;">Deployment</span>
<span class="t" style="left:1666.10px;top:428.05px;font-size:22.70px;font-weight:400;color:#0b0b0d;letter-spacing:0.348px;">guestbook-ui</span>
<span class="t" style="left:1666.10px;top:460.25px;font-size:16.30px;font-weight:400;color:#4f5162;letter-spacing:-0.146px;">Endpoints</span>
<span class="t" style="left:1666.10px;top:558.05px;font-size:22.70px;font-weight:400;color:#0b0b0d;letter-spacing:0.463px;">guestbook-ui-nzklt</span>
<span class="t" style="left:1666.10px;top:590.25px;font-size:16.30px;font-weight:400;color:#4f5162;letter-spacing:-0.132px;">EndpointSlice</span>
<span class="t" style="left:1666.10px;top:673.05px;font-size:22.70px;font-weight:400;color:#0b0b0d;letter-spacing:0.400px;">guestbook-ui-7c64987dc9</span>
<span class="t" style="left:1666.10px;top:704.25px;font-size:16.30px;font-weight:400;color:#4f5162;letter-spacing:-0.317px;">ReplicaSet</span>
<span class="t" style="left:1666.10px;top:804.05px;font-size:22.70px;font-weight:400;color:#0b0b0d;letter-spacing:0.570px;">guestbook-ui-b848d5d9d</span>
<span class="t" style="left:1666.10px;top:835.25px;font-size:16.30px;font-weight:400;color:#4f5162;letter-spacing:-0.317px;">ReplicaSet</span>
<span class="t" style="left:2287.80px;top:804.05px;font-size:22.70px;font-weight:400;color:#0b0b0d;letter-spacing:0.421px;">guestbook-ui-b848d5d9...</span>
<span class="t" style="left:2287.80px;top:835.25px;font-size:16.30px;font-weight:400;color:#4f5162;letter-spacing:0.000px;transform:scaleX(0.9315);transform-origin:0 0;">Pod</span>
</div>
<svg class="abs" style="left:2644px;top:1392px" width="8" height="8" viewBox="0 0 8 8"><path d="M8,0 V8 H0 A8 8 0 0 0 8,0 Z" fill="#0a0a0c"/></svg>
</body></html>
